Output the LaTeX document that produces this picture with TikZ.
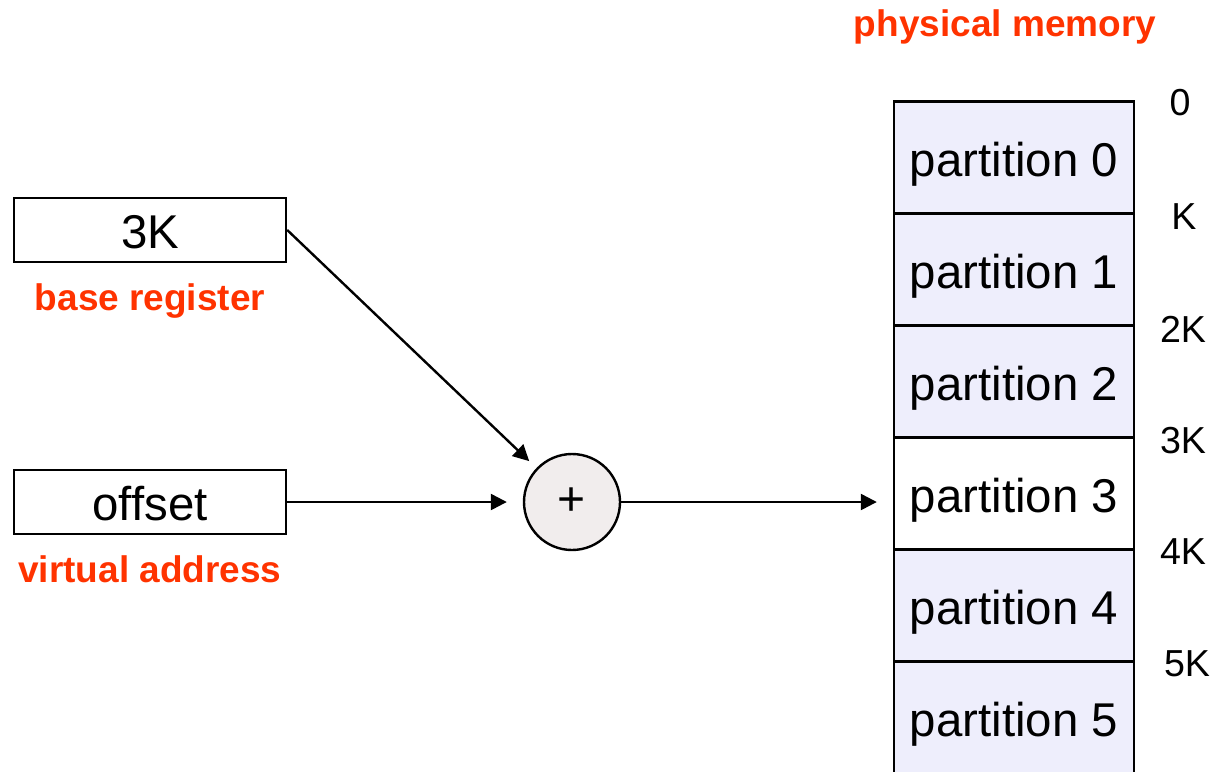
\documentclass[tikz,border=0pt]{standalone}
\usepackage{fontspec}
\setmainfont{Liberation Sans}
\usetikzlibrary{positioning,arrows.meta}
\definecolor{memred}{HTML}{FF3300}
\definecolor{memblu}{HTML}{EEEEFC}
\definecolor{sumgray}{HTML}{F1EDED}

\begin{document}
\begin{tikzpicture}[x=0.5pt, y=-0.5pt,
					every node/.style = {inner sep=0pt},
					reg/.style = {draw, line width=1.2pt, minimum width=136pt, minimum height=32pt,
						text height=18.5pt, text depth=0pt, font=\fontsize{23.7}{28}\selectfont},
					part/.style = {draw, line width=1.2pt, minimum width=120pt, minimum height=56pt,
						text height=19pt, text depth=0pt, font=\fontsize{23.7}{28}\selectfont},
					lbl/.style = {text=memred, font=\bfseries\fontsize{18.5}{22}\selectfont},
					addr/.style = {font=\fontsize{18.8}{22}\selectfont},
					arr/.style = {line width=1.2pt, -{Triangle[length=8pt,width=8pt]}}]
					\useasboundingbox (0,0) rectangle (1213,771);
					% registers
					\node[reg] (base) at (150,230) {3K};
					\node[lbl, below=10pt of base] (baselbl) {base register};
					\node[reg] (offset) at (150,502) {offset};
					\node[lbl, below=10pt of offset] (virtlbl) {virtual address};
					% adder
					\node[circle, draw, line width=1.2pt, fill=sumgray, minimum size=48pt,
						font=\fontsize{24}{28}\selectfont] (sum) at (572,502) {+};
					% physical memory
					\node[lbl] (physlbl) at (1005,27) {physical memory};
					\foreach \i/\c in {0/memblu,1/memblu,2/memblu,3/white,4/memblu,5/memblu}
						\node[part, fill=\c] (p\i) at (1014,{157.5+112*\i}) {partition \i};
					\foreach \t/\x/\y in {0/1180/103, K/1184/217, 2K/1183/329,
						3K/1183/441, 4K/1183/552, 5K/1187/664}
						\node[addr] (a\t) at (\x,\y) {\t};
					% connectors
					\draw[arr, shorten >=5pt] (base.east) -- (sum);
					\draw[arr, shorten >=8pt] (offset.east) -- (sum.west);
					\draw[arr, shorten >=8pt] (sum.east) -- (sum.east -| p3.west);
				\end{tikzpicture}
\end{document}
